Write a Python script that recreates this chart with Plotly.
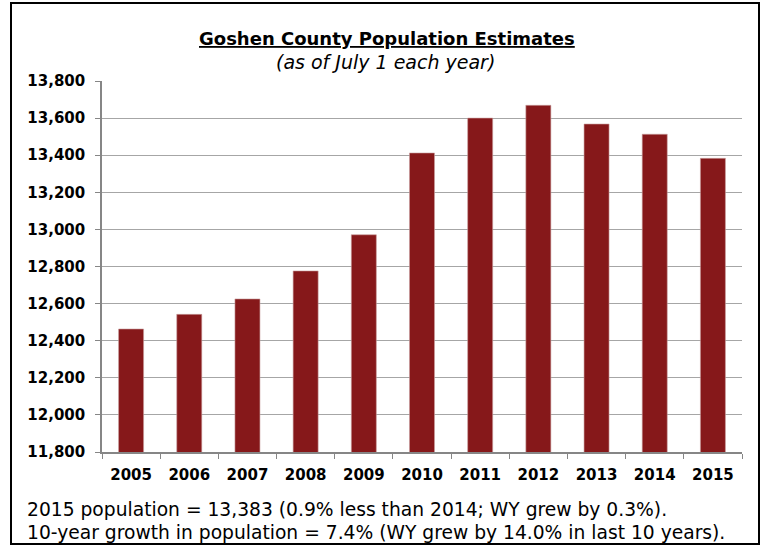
import plotly.graph_objects as go

years = ["2005", "2006", "2007", "2008", "2009", "2010", "2011", "2012", "2013", "2014", "2015"]
population = [12463, 12542, 12625, 12776, 12971, 13412, 13600, 13669, 13568, 13513, 13383]
y_ticks = [11800, 12000, 12200, 12400, 12600, 12800, 13000, 13200, 13400, 13600, 13800]

title = "Goshen County Population Estimates"
subtitle = "(as of July 1 each year)"
note1 = "2015 population = 13,383 (0.9% less than 2014; WY grew by 0.3%)."
note2 = "10-year growth in population = 7.4% (WY grew by 14.0% in last 10 years)."

FONT = "DejaVu Sans, Liberation Sans, Arial, sans-serif"
W, H = 764, 546
L, R, T, B = 102, 742, 81, 452

def px(x):
    return (x - L) / (R - L)

def py(y):
    return (B - y) / (B - T)

fig = go.Figure()
fig.add_trace(go.Bar(
    x=years, y=population,
    marker=dict(color="#86181A", line=dict(color="#C9A0A0", width=0.6)),
    width=0.43,
))

fig.update_layout(
    width=W, height=H,
    margin=dict(l=L, r=W - R, t=T, b=H - B, pad=0),
    paper_bgcolor="white", plot_bgcolor="white",
    showlegend=False,
    font=dict(family=FONT, color="black"),
)
fig.update_yaxes(
    range=[11800, 13800], tickvals=y_ticks, tickformat=",",
    showgrid=True, gridcolor="#A6A6A6", gridwidth=1,
    showline=True, linecolor="#868686", linewidth=1.5,
    ticks="outside", ticklen=5, tickcolor="#868686",
    tickfont=dict(family=FONT, size=15, color="black", weight="bold"),
    ticklabelstandoff=7, zeroline=False,
)
fig.update_xaxes(
    showline=True, linecolor="#868686", linewidth=1.5,
    ticks="outside", ticklen=5, tickcolor="#868686", tickson="boundaries",
    tickfont=dict(family=FONT, size=15, color="black", weight="bold"),
    ticklabelstandoff=8,
)

fig.add_annotation(x=px(387), y=py(38), xref="paper", yref="paper", showarrow=False,
                   text="<u>" + title + "</u>", font=dict(family=FONT, size=18, color="black", weight="bold"),
                   xanchor="center", yanchor="middle")
fig.add_annotation(x=px(385), y=py(62), xref="paper", yref="paper", showarrow=False,
                   text="<i>" + subtitle + "</i>", font=dict(family=FONT, size=19, color="black"),
                   xanchor="center", yanchor="middle")
fig.add_annotation(x=px(25), y=py(509), xref="paper", yref="paper", showarrow=False,
                   text=note1, font=dict(family=FONT, size=18.7, color="black"),
                   xanchor="left", yanchor="middle")
fig.add_annotation(x=px(25), y=py(532), xref="paper", yref="paper", showarrow=False,
                   text=note2, font=dict(family=FONT, size=18.7, color="black"),
                   xanchor="left", yanchor="middle")

fig.add_shape(type="rect", xref="paper", yref="paper",
              x0=px(11), x1=px(759), y0=py(544), y1=py(3),
              line=dict(color="black", width=2), fillcolor="rgba(0,0,0,0)", layer="above")

fig.write_html("out.html", config={"displayModeBar": False},
               post_script="document.body.style.margin='0';document.body.style.overflow='hidden';")
